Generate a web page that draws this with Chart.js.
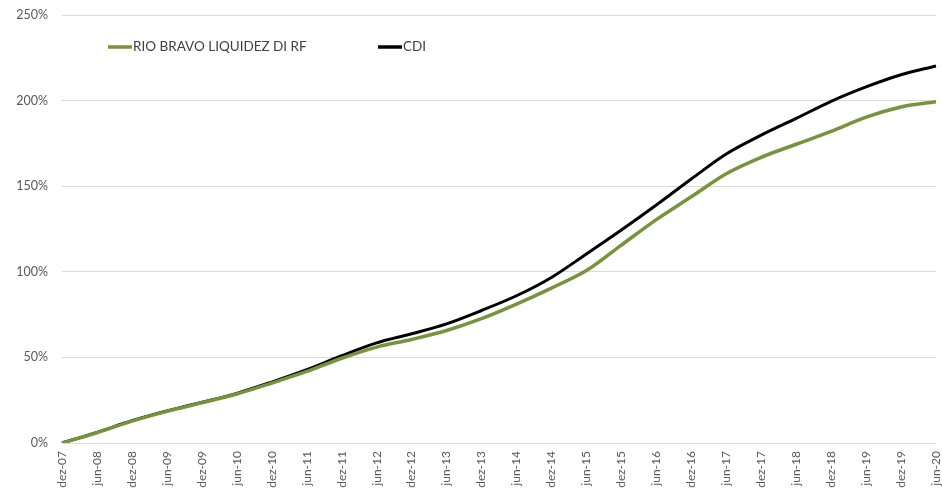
<!DOCTYPE html>
<html>
<head>
<meta charset="utf-8">
<script src="https://cdn.jsdelivr.net/npm/chart.js@4.4.1/dist/chart.umd.min.js"></script>
<style>
  html, body { margin: 0; padding: 0; background: #ffffff; }
  #wrap { width: 942px; height: 492px; position: relative; }
</style>
</head>
<body>
<div id="wrap"><canvas id="c" width="942" height="492"></canvas></div>
<script>
const categories = ["dez-07","jun-08","dez-08","jun-09","dez-09","jun-10","dez-10","jun-11","dez-11","jun-12","dez-12","jun-13","dez-13","jun-14","dez-14","jun-15","dez-15","jun-16","dez-16","jun-17","dez-17","jun-18","dez-18","jun-19","dez-19","jun-20"];
const rioBravo = [0, 6, 12.8, 18.5, 23.5, 28.6, 35, 41.8, 49.5, 56, 60.5, 65.7, 72.6, 81.1, 90.5, 100.7, 115.6, 130.5, 143.8, 157.3, 166.9, 174.5, 182, 190.3, 196.3, 199.3];
const cdi = [0, 6.2, 13, 18.7, 23.8, 29, 35.6, 42.8, 51, 58.5, 63.8, 69.6, 77.4, 86, 96.7, 110.4, 124.4, 139, 154.2, 168.8, 179.8, 189.6, 199.6, 208, 215.1, 220.2];
const seriesNames = ["RIO BRAVO LIQUIDEZ DI RF", "CDI"];
const yTicks = [0, 50, 100, 150, 200, 250];

const FONT = "Lato, 'Open Sans', sans-serif";

const legendPlugin = {
  id: 'customLegend',
  afterDraw(chart) {
    const ctx = chart.ctx;
    const items = [
      { name: seriesNames[0], color: '#77933C', x: 108 },
      { name: seriesNames[1], color: '#000000', x: 378 }
    ];
    const y = 47;
    ctx.save();
    ctx.font = "13.5px " + FONT;
    ctx.textBaseline = 'middle';
    items.forEach(it => {
      ctx.strokeStyle = it.color;
      ctx.lineWidth = 3.5;
      ctx.beginPath();
      ctx.moveTo(it.x, y);
      ctx.lineTo(it.x + 24, y);
      ctx.stroke();
      ctx.fillStyle = '#404040';
      ctx.fillText(it.name, it.x + 25, y);
    });
    ctx.restore();
  }
};

new Chart(document.getElementById('c'), {
  type: 'line',
  data: {
    labels: categories,
    datasets: [
      { label: seriesNames[0], data: rioBravo, borderColor: '#77933C', borderWidth: 3.5, pointRadius: 0, cubicInterpolationMode: 'monotone', fill: false },
      { label: seriesNames[1], data: cdi, borderColor: '#000000', borderWidth: 3, pointRadius: 0, cubicInterpolationMode: 'monotone', fill: false }
    ]
  },
  options: {
    responsive: false,
    animation: false,
    layout: { padding: { top: 15, right: 6, left: 0, bottom: 0 } },
    plugins: { legend: { display: false }, tooltip: { enabled: false } },
    scales: {
      x: {
        offset: false,
        grid: { display: false, drawTicks: false },
        border: { display: false },
        ticks: {
          autoSkip: false, minRotation: 90, maxRotation: 90, padding: 8,
          color: '#595959', font: { family: FONT, size: 12 }
        },
        afterFit(scale) { scale.height = 49; scale.paddingLeft = 0; scale.paddingRight = 0; }
      },
      y: {
        min: 0, max: 250,
        afterBuildTicks(scale) { scale.ticks = yTicks.map(v => ({ value: v })); },
        grid: { color: '#d9d9d9', lineWidth: 1, drawTicks: false },
        border: { display: false },
        ticks: {
          padding: 14, color: '#595959', font: { family: FONT, size: 12.5 },
          callback: v => v + '%'
        },
        afterFit(scale) { scale.width = 62; scale.paddingTop = 0; scale.paddingBottom = 0; }
      }
    }
  },
  plugins: [legendPlugin]
});
</script>
</body>
</html>
